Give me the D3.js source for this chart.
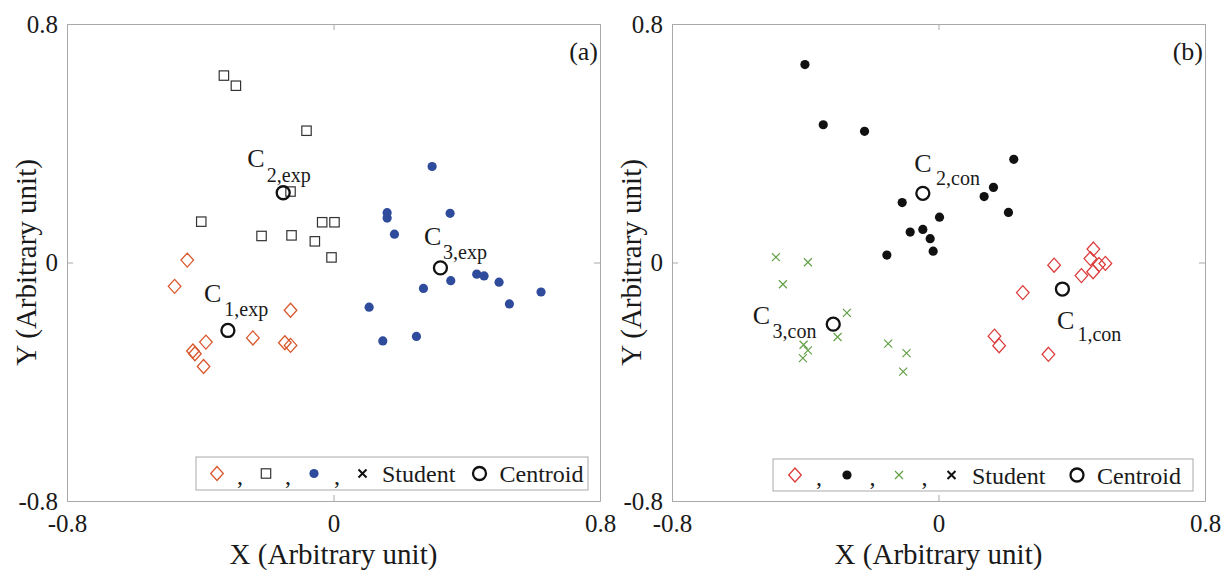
<!DOCTYPE html>
<html><head><meta charset="utf-8">
<script src="https://cdn.jsdelivr.net/npm/d3@7"></script>
<style>
body{margin:0;background:#fff}
svg{display:block}
text{font-family:"Liberation Serif","Times New Roman",serif;fill:#1a1a1a}
</style>
</head><body>
<svg id="chart" width="1225" height="570"></svg>
<script>
// ---------- data ----------
const tickValues = [-0.8, 0, 0.8];
const tickLabels = ["-0.8", "0", "0.8"];
const axisTitleX = "X (Arbitrary unit)";
const axisTitleY = "Y (Arbitrary unit)";
const panelLetters = ["(a)", "(b)"];

// panel (a): experimental clusters
const expCluster1 = [[-0.439,0.008],[-0.477,-0.080],[-0.129,-0.160],[-0.242,-0.253],[-0.383,-0.267],
  [-0.422,-0.297],[-0.416,-0.306],[-0.390,-0.349],[-0.146,-0.269],[-0.129,-0.278]];
const expCluster2 = [[-0.329,0.627],[-0.293,0.593],[-0.081,0.442],[-0.129,0.238],[-0.397,0.137],
  [-0.216,0.089],[-0.126,0.091],[-0.034,0.135],[0.003,0.135],[-0.056,0.071],[-0.006,0.017]];
const expCluster3 = [[0.296,0.322],[0.161,0.167],[0.161,0.149],[0.350,0.165],[0.183,0.095],
  [0.352,-0.061],[0.430,-0.039],[0.452,-0.045],[0.497,-0.066],[0.623,-0.099],[0.528,-0.139],
  [0.270,-0.087],[0.107,-0.150],[0.148,-0.263],[0.249,-0.248]];
const expCentroids = [[-0.317,-0.228],[-0.151,0.234],[0.321,-0.018]];
const expCentroidNames = ["1,exp","2,exp","3,exp"];

// panel (b): control clusters
const conCluster1 = [[0.465,0.045],[0.456,0.013],[0.482,-0.007],[0.501,-0.003],[0.464,-0.031],
  [0.429,-0.044],[0.347,-0.009],[0.253,-0.101],[0.168,-0.247],[0.182,-0.279],[0.330,-0.308]];
const conCluster2 = [[-0.401,0.664],[-0.346,0.462],[-0.222,0.440],[0.226,0.346],[0.165,0.252],
  [0.137,0.221],[0.210,0.168],[-0.109,0.201],[0.003,0.152],[-0.085,0.102],[-0.047,0.111],
  [-0.025,0.080],[-0.016,0.038],[-0.155,0.025]];
const conCluster3 = [[-0.488,0.018],[-0.392,0.001],[-0.467,-0.073],[-0.275,-0.169],[-0.303,-0.250],
  [-0.405,-0.276],[-0.392,-0.295],[-0.407,-0.321],[-0.151,-0.272],[-0.096,-0.304],[-0.106,-0.366]];
const conCentroids = [[0.372,-0.089],[-0.047,0.232],[-0.316,-0.207]];
const conCentroidNames = ["1,con","2,con","3,con"];

const legendTexts = ["Student", "Centroid"];

// ---------- styles / layout ----------
const COL = {orange:"#d9572c", red:"#dc3b3b", blue:"#2f4c9c", black:"#111", green:"#62a046", frame:"#a9a9a9", sq:"#333"};
const svg = d3.select("#chart");

const panels = [
  {left:67, right:600, top:24, bottom:501, letter:panelLetters[0],
   series:[{pts:expCluster1, m:"diamond", c:COL.orange},{pts:expCluster2, m:"square", c:COL.sq},{pts:expCluster3, m:"dot", c:COL.blue}],
   centroids:expCentroids, names:expCentroidNames,
   lab:[[-24,-28.5,-3.6,-14],[-36,-26,-16.4,-11],[-16.4,-22.7,2.6,-9.3]],
   legend:{x:196, y:457, w:392, h:33, items:[
     {t:"m", m:"diamond", c:COL.orange, x:21},{t:",",x:44},{t:"m", m:"square", c:COL.sq, x:70},{t:",",x:92},
     {t:"m", m:"dot", c:COL.blue, x:118},{t:",",x:141},{t:"m", m:"cross", c:COL.black, x:166.5, sw:2},
     {t:"s", s:legendTexts[0], x:186},{t:"m", m:"centroid", c:COL.black, x:283.5},{t:"s", s:legendTexts[1], x:303.5}]},
   ytitleX:36},
  {left:672, right:1205, top:24, bottom:501, letter:panelLetters[1],
   series:[{pts:conCluster1, m:"diamond", c:COL.red},{pts:conCluster2, m:"dot", c:COL.black},{pts:conCluster3, m:"cross", c:COL.green}],
   centroids:conCentroids, names:conCentroidNames,
   lab:[[-5.4,40,15,52.3],[-8.6,-21.7,13.2,-8.4],[-80.5,0,-60.7,13.4]],
   legend:{x:773, y:459, w:420, h:32, items:[
     {t:"m", m:"diamond", c:COL.red, x:22},{t:",",x:46},{t:"m", m:"dot", c:COL.black, x:74},{t:",",x:99.5},
     {t:"m", m:"cross", c:COL.green, x:126},{t:",",x:151.5},{t:"m", m:"cross", c:COL.black, x:178.5, sw:2},
     {t:"s", s:legendTexts[0], x:199},{t:"m", m:"centroid", c:COL.black, x:304},{t:"s", s:legendTexts[1], x:324}]},
   ytitleX:641}
];

function drawMarker(g, type, color, sw) {
  if (type === "diamond") {
    g.append("path").attr("d","M0,-7L6.3,0L0,7L-6.3,0Z").attr("fill","none").attr("stroke",color).attr("stroke-width",1.3);
  } else if (type === "square") {
    g.append("rect").attr("x",-4.7).attr("y",-4.7).attr("width",9.4).attr("height",9.4)
      .attr("fill","none").attr("stroke",color).attr("stroke-width",1.2);
  } else if (type === "dot") {
    g.append("circle").attr("r",4.6).attr("fill",color);
  } else if (type === "cross") {
    g.append("path").attr("d","M-4,-4L4,4M-4,4L4,-4").attr("stroke",color).attr("stroke-width",sw||1.2).attr("fill","none");
  } else if (type === "centroid") {
    g.append("circle").attr("r",6.5).attr("fill","none").attr("stroke",color).attr("stroke-width",2.3);
  }
}

panels.forEach(p => {
  const x = d3.scaleLinear().domain([-0.8,0.8]).range([p.left,p.right]);
  const y = d3.scaleLinear().domain([-0.8,0.8]).range([p.bottom,p.top]);
  const fmt = (d,i) => tickLabels[tickValues.indexOf(d)];
  const g = svg.append("g");

  const styleAxis = sel => {
    sel.select(".domain").attr("stroke",COL.frame).attr("stroke-width",1);
    sel.selectAll(".tick line").attr("stroke",COL.frame);
    sel.selectAll(".tick text").attr("font-family","Liberation Serif, serif").attr("font-size",25).attr("fill","#1a1a1a");
  };
  g.append("g").attr("transform",`translate(0,${p.bottom})`)
    .call(d3.axisBottom(x).tickValues(tickValues).tickFormat(fmt).tickSizeInner(-6).tickSizeOuter(0).tickPadding(13)).call(styleAxis);
  g.append("g").attr("transform",`translate(0,${p.top})`)
    .call(d3.axisTop(x).tickValues(tickValues).tickFormat("").tickSizeInner(-6).tickSizeOuter(0)).call(styleAxis);
  g.append("g").attr("transform",`translate(${p.left},0)`)
    .call(d3.axisLeft(y).tickValues(tickValues).tickFormat(fmt).tickSizeInner(-6).tickSizeOuter(0).tickPadding(9)).call(styleAxis);
  g.append("g").attr("transform",`translate(${p.right},0)`)
    .call(d3.axisRight(y).tickValues(tickValues).tickFormat("").tickSizeInner(-6).tickSizeOuter(0)).call(styleAxis);

  // axis titles
  g.append("text").attr("x",(p.left+p.right)/2).attr("y",564).attr("text-anchor","middle")
    .attr("font-size",29).text(axisTitleX);
  g.append("text").attr("transform",`translate(${p.ytitleX},${(p.top+p.bottom)/2}) rotate(-90)`)
    .attr("text-anchor","middle").attr("font-size",29).text(axisTitleY);

  // panel letter
  g.append("text").attr("x",p.right-2).attr("y",60).attr("text-anchor","end").attr("font-size",26).text(p.letter);

  // data
  p.series.forEach(s => {
    s.pts.forEach(d => {
      const mg = g.append("g").attr("transform",`translate(${x(d[0])},${y(d[1])})`);
      drawMarker(mg, s.m, s.c);
    });
  });
  p.centroids.forEach((d,i) => {
    const cx = x(d[0]), cy = y(d[1]);
    drawMarker(g.append("g").attr("transform",`translate(${cx},${cy})`), "centroid", COL.black);
    const o = p.lab[i];
    g.append("text").attr("x",cx+o[0]).attr("y",cy+o[1]).attr("font-size",26).text("C");
    g.append("text").attr("x",cx+o[2]).attr("y",cy+o[3]).attr("font-size",20).text(p.names[i]);
  });

  // legend
  const L = p.legend;
  const lg = g.append("g").attr("transform",`translate(${L.x},${L.y})`);
  lg.append("rect").attr("width",L.w).attr("height",L.h).attr("fill","#fff").attr("stroke",COL.frame).attr("stroke-width",1);
  const cy = L.h/2;
  L.items.forEach(it => {
    if (it.t === "m") drawMarker(lg.append("g").attr("transform",`translate(${it.x},${cy})`), it.m, it.c, it.sw);
    else if (it.t === ",") lg.append("text").attr("x",it.x).attr("y",cy+10).attr("text-anchor","middle").attr("font-size",24).text(",");
    else lg.append("text").attr("x",it.x).attr("y",cy+8.5).attr("font-size",24).text(it.s);
  });
});
</script>
</body></html>
